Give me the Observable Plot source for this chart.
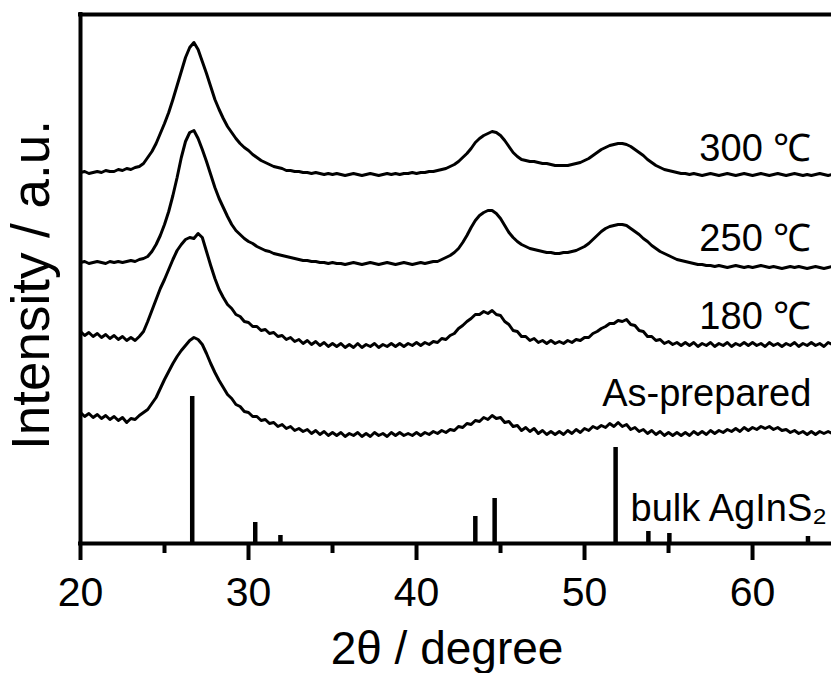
<!DOCTYPE html>
<html>
<head>
<meta charset="utf-8">
<script src="https://cdn.jsdelivr.net/npm/d3@7"></script>
<script src="https://cdn.jsdelivr.net/npm/@observablehq/plot@0.6"></script>
<style>
  html, body { margin: 0; padding: 0; background: #fff; overflow: hidden; }
</style>
</head>
<body>
<div id="chart"></div>
<script>
// 2θ sampling positions (degrees)
const twoTheta = [
  20,20.25,20.5,20.75,21,21.25,21.5,21.75,22,22.25,22.5,22.75,23,23.25,23.5,23.75,24,24.25,24.5,24.75,
  25,25.25,25.5,25.75,26,26.25,26.5,26.75,27,27.25,27.5,27.75,28,28.25,28.5,28.75,29,29.25,29.5,29.75,
  30,30.25,30.5,30.75,31,31.25,31.5,31.75,32,32.25,32.5,32.75,33,33.25,33.5,33.75,34,34.25,34.5,34.75,
  35,35.25,35.5,35.75,36,36.25,36.5,36.75,37,37.25,37.5,37.75,38,38.25,38.5,38.75,39,39.25,39.5,39.75,
  40,40.25,40.5,40.75,41,41.25,41.5,41.75,42,42.25,42.5,42.75,43,43.25,43.5,43.75,44,44.25,44.5,44.75,
  45,45.25,45.5,45.75,46,46.25,46.5,46.75,47,47.25,47.5,47.75,48,48.25,48.5,48.75,49,49.25,49.5,49.75,
  50,50.25,50.5,50.75,51,51.25,51.5,51.75,52,52.25,52.5,52.75,53,53.25,53.5,53.75,54,54.25,54.5,54.75,
  55,55.25,55.5,55.75,56,56.25,56.5,56.75,57,57.25,57.5,57.75,58,58.25,58.5,58.75,59,59.25,59.5,59.75,
  60,60.25,60.5,60.75,61,61.25,61.5,61.75,62,62.25,62.5,62.75,63,63.25,63.5,63.75,64,64.25,64.5,64.75
];

// Offset intensities (a.u.)
const i300 = [
  371,372,370,371,372,371,373,372,372,374,373,375,374,376,377,380,386,392,400,410,
  420,431,444,458,472,486,496,501,494,482,470,457,444,434,425,417,411,405,400,396,
  393,389,386,383,381,379,377,376,375,373,373,372,372,371,371,370,371,370,369,370,
  369,370,369,368,369,370,369,368,369,370,369,368,369,370,369,370,369,370,370,371,
  370,371,371,372,372,373,374,375,377,379,382,386,390,395,401,405,408,410,412,411,
  408,403,397,391,387,384,383,382,382,381,380,380,379,378,378,378,378,379,380,381,
  383,385,388,391,394,396,398,399,400,400,399,397,394,391,388,384,381,378,376,374,
  373,372,371,370,370,369,370,369,368,369,370,369,368,369,370,369,368,369,370,369,
  368,369,370,369,368,369,370,369,368,369,370,369,368,369,368,369,370,369,368,369
];
const i250 = [
  281,282,280,281,282,281,280,282,281,282,281,282,283,282,284,285,287,292,299,308,
  319,332,348,366,386,402,411,413,405,394,382,369,356,345,336,327,319,313,309,305,
  302,300,297,295,293,292,290,289,288,287,286,285,284,283,283,282,282,281,281,280,
  281,280,280,279,280,281,280,279,280,281,280,279,280,281,280,279,280,281,280,279,
  280,281,280,281,282,282,284,286,288,291,295,301,308,316,323,328,331,333,333,330,
  325,318,311,306,302,299,297,295,294,293,292,291,291,290,290,291,291,292,293,295,
  297,300,304,308,312,315,317,318,319,319,318,315,312,309,305,302,298,295,292,290,
  288,286,284,283,282,281,280,279,279,278,278,277,278,277,276,277,278,277,276,277,
  276,277,278,277,276,277,276,275,276,277,276,277,276,275,276,277,276,275,276,277
];
const i180 = [
  212,208,211,207,210,206,209,205,208,204,207,203,206,203,207,212,222,233,244,255,
  264,274,284,293,299,304,306,305,310,306,292,278,265,254,246,239,235,229,227,222,
  221,217,217,213,214,210,211,207,208,204,206,202,204,200,203,199,202,198,201,197,
  200,197,200,196,199,196,200,196,199,197,200,196,199,197,200,197,200,197,200,198,
  201,198,201,199,202,201,205,204,208,210,215,218,222,225,229,229,232,230,233,229,
  228,222,219,213,212,207,207,203,205,201,203,200,203,200,202,200,203,201,204,203,
  206,206,210,212,215,217,220,220,223,222,224,219,218,213,212,207,207,203,204,200,
  202,199,201,198,201,198,201,197,200,198,201,197,200,198,201,197,200,198,201,198,
  201,198,200,197,201,198,200,197,200,198,201,197,200,198,201,198,200,197,201,199
];
const iAsPrepared = [
  131,127,130,126,129,125,128,124,127,123,126,121,125,124,128,131,134,140,146,155,
  164,172,180,187,193,198,203,206,204,199,190,180,171,163,156,149,145,139,137,132,
  131,127,127,123,124,120,121,117,119,115,117,113,115,112,114,110,113,109,112,108,
  111,108,111,107,110,108,111,107,110,107,111,108,110,107,111,108,111,108,110,108,
  111,108,111,109,112,110,113,111,114,113,117,116,120,119,123,122,126,124,128,125,
  126,121,122,117,118,113,116,112,115,110,113,109,112,109,112,109,113,110,114,111,
  115,113,117,115,118,116,120,117,121,117,119,114,116,112,114,110,113,109,112,108,
  111,108,111,108,111,108,112,109,112,109,113,110,113,111,114,112,115,112,116,113,
  116,114,117,115,117,114,116,113,114,111,113,110,112,109,112,109,112,110,112,110
];

// Reference pattern (bulk AgInS2)
const stickTheta = [26.65, 30.4, 31.9, 43.5, 44.65, 51.85, 53.8, 55.05, 63.3];
const stickHeight = [147, 21, 8, 27, 45, 96, 12, 10, 7];

// Labels
const seriesNames = ["300 ℃", "250 ℃", "180 ℃", "As-prepared"];
const labelTheta = [63.5, 63.5, 63.5, 63.5];
const labelLevel = [383, 293, 215, 138];
const refLabel = "bulk AgInS₂";
const refLabelTheta = 52.74;
const refLabelLevel = 23;

const majorTicks = [20, 30, 40, 50, 60];
const minorTicks = [25, 35, 45, 55];
const xDomain = [20, 64.7];
const yDomain = [0, 529];

// Build tables
const seriesValues = [i300, i250, i180, iAsPrepared];
const curves = [];
seriesValues.forEach((vals, s) => {
  vals.forEach((v, k) => curves.push({series: seriesNames[s], theta: twoTheta[k], I: v}));
});
const sticks = stickTheta.map((t, k) => ({theta: t, h: stickHeight[k]}));
const labels = seriesNames.map((n, k) => ({text: n, theta: labelTheta[k], I: labelLevel[k]}));

const font = "'Liberation Sans', Arial, Helvetica, sans-serif";

const chart = Plot.plot({
  width: 831,
  height: 673,
  marginLeft: 80,
  marginRight: 0,
  marginTop: 14,
  marginBottom: 130,
  style: {fontFamily: font, background: "#fff", color: "#000"},
  x: {domain: xDomain},
  y: {domain: yDomain, axis: null},
  marks: [
    Plot.ruleY([yDomain[1]], {stroke: "#000", strokeWidth: 4, strokeLinecap: "square"}),
    Plot.ruleX([xDomain[0]], {y1: yDomain[0], y2: yDomain[1], stroke: "#000", strokeWidth: 4, strokeLinecap: "square"}),
    Plot.ruleY([yDomain[0]], {stroke: "#000", strokeWidth: 4, strokeLinecap: "square"}),
    Plot.axisX({ticks: majorTicks, tickSize: 17, tickPadding: 16, strokeWidth: 4, fontSize: 41, tickFormat: d => String(d), label: null}),
    Plot.axisX({ticks: minorTicks, tickSize: 10, strokeWidth: 4, tickFormat: () => "", label: null}),
    Plot.ruleX(sticks, {x: "theta", y1: 0, y2: "h", stroke: "#000", strokeWidth: 4.5}),
    Plot.lineY(curves, {x: "theta", y: "I", z: "series", stroke: "#000", strokeWidth: 3, strokeLinejoin: "round", clip: true}),
    Plot.text(labels, {x: "theta", y: "I", text: "text", textAnchor: "end", lineAnchor: "bottom", fontSize: 38, fill: "#000"}),
    Plot.text([refLabel], {x: () => refLabelTheta, y: () => refLabelLevel, text: d => d, textAnchor: "start", lineAnchor: "bottom", fontSize: 38, fill: "#000"}),
    Plot.text(["2θ / degree"], {frameAnchor: "bottom", dx: -9, dy: 120, lineAnchor: "bottom", fontSize: 46, fill: "#000"}),
    Plot.text(["Intensity / a.u."], {frameAnchor: "left", textAnchor: "middle", rotate: -90, dx: -32, dy: 6, lineAnchor: "bottom", fontSize: 53, fill: "#000"})
  ]
});
document.getElementById("chart").appendChild(chart);
</script>
</body>
</html>
